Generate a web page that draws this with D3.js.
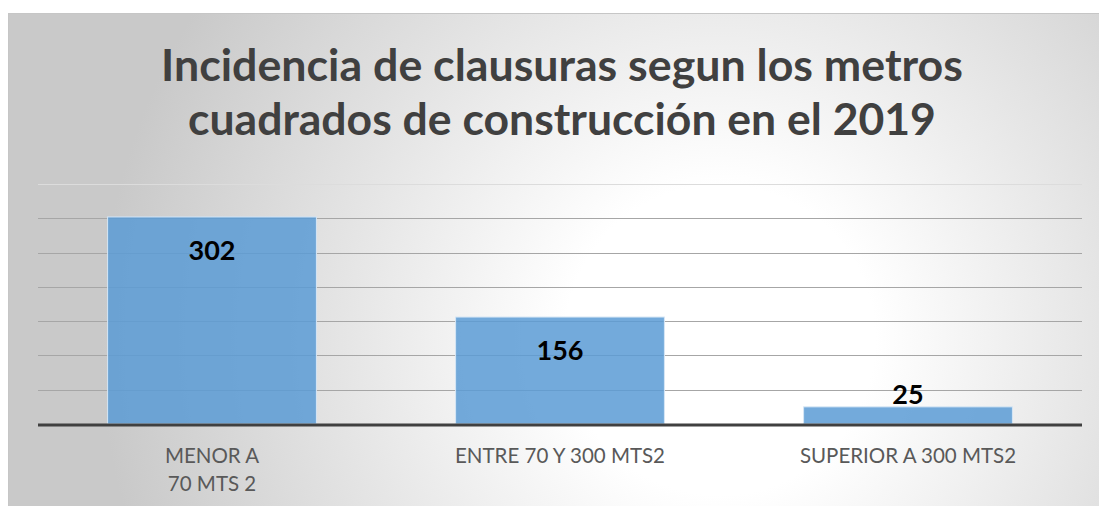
<!DOCTYPE html>
<html>
<head>
<meta charset="utf-8">
<script src="https://cdn.jsdelivr.net/npm/d3@7"></script>
<style>
  body { margin: 0; background: #fff; }
  svg { display: block; }
</style>
</head>
<body>
<div id="chart"></div>
<script>
// Chart data
const categories = ['MENOR A|70 MTS 2', 'ENTRE 70 Y 300 MTS2', 'SUPERIOR A 300 MTS2'];
const values = [302, 156, 25];
const gridTicks = [50, 100, 150, 200, 250, 300, 350];
const titleLines = ['Incidencia de clausuras segun los metros', 'cuadrados de construcción en el 2019'];

const W = 1099, H = 506;
const frame = { x: 8, y: 13 };
const margin = { top: 184, right: 17, bottom: 82, left: 38 };
const width = W - margin.left - margin.right;
const height = H - margin.top - margin.bottom;

const svg = d3.select('#chart').append('svg')
  .attr('width', W)
  .attr('height', H);

// background gradient, bright spot right of centre
const defs = svg.append('defs');
const grad = defs.append('radialGradient')
  .attr('id', 'bg')
  .attr('gradientUnits', 'userSpaceOnUse')
  .attr('cx', 720).attr('cy', 340).attr('r', 620);
grad.append('stop').attr('offset', '0%').attr('stop-color', '#ffffff');
grad.append('stop').attr('offset', '25%').attr('stop-color', '#ffffff');
grad.append('stop').attr('offset', '100%').attr('stop-color', '#c9c9c9');

svg.append('rect')
  .attr('x', frame.x + 0.5).attr('y', frame.y + 0.5)
  .attr('width', W - frame.x + 5).attr('height', H - frame.y + 5)
  .attr('fill', 'url(#bg)')
  .attr('stroke', '#c6c6c6');

// title
const title = svg.append('g').attr('class', 'title');
titleLines.forEach((t, i) => {
  title.append('text')
    .attr('x', 562)
    .attr('y', 81 + i * 54)
    .attr('text-anchor', 'middle')
    .style('font-family', 'Lato, "Open Sans", sans-serif')
    .style('font-weight', 'bold')
    .style('font-size', '42px')
    .style('fill', '#404040')
    .text(t);
});
// squeeze title to the width of the original lines
const titleWidths = [802, 748];
title.selectAll('text').each(function (d, i) {
  const w = this.getComputedTextLength();
  const fs = 42 * titleWidths[i] / w;
  d3.select(this).style('font-size', `${fs}px`);
});

const g = svg.append('g')
  .attr('transform', `translate(${margin.left},${margin.top})`);

const x = d3.scaleBand()
  .domain(categories)
  .range([0, width])
  .paddingInner(0.4)
  .paddingOuter(0.2);

const y = d3.scaleLinear()
  .domain([0, 350])
  .range([height, 0]);

// gridlines
g.append('g')
  .attr('class', 'grid')
  .selectAll('line')
  .data(gridTicks)
  .enter()
  .append('line')
  .attr('x1', 0)
  .attr('x2', width)
  .attr('y1', d => Math.round(y(d)) + 0.5)
  .attr('y2', d => Math.round(y(d)) + 0.5)
  .attr('stroke', d => d === 350 ? '#dcdcdc' : '#a6a6a6')
  .attr('stroke-width', 1);

// bars
g.selectAll('.bar')
  .data(values)
  .enter()
  .append('rect')
  .attr('class', 'bar')
  .attr('x', (d, i) => x(categories[i]))
  .attr('y', d => y(d))
  .attr('width', x.bandwidth())
  .attr('height', d => height - y(d))
  .attr('fill', '#5b9bd5')
  .attr('fill-opacity', 0.85)
  .attr('stroke', '#d6e6f5')
  .attr('stroke-width', 1);

// value labels
g.selectAll('.value')
  .data(values)
  .enter()
  .append('text')
  .attr('class', 'value')
  .attr('x', (d, i) => x(categories[i]) + x.bandwidth() / 2)
  .attr('y', d => (height - y(d) > 60 ? y(d) + 43 : y(d) - 3))
  .attr('text-anchor', 'middle')
  .style('font-family', 'Lato, "Open Sans", sans-serif')
  .style('font-weight', 'bold')
  .style('font-size', '27px')
  .style('fill', '#000')
  .text(d => d);

// baseline
g.append('line')
  .attr('x1', 0).attr('x2', width)
  .attr('y1', height + 1).attr('y2', height + 1)
  .attr('stroke', '#404040')
  .attr('stroke-width', 3);

// category labels
const xAxis = d3.axisBottom(x).tickSize(0).tickFormat('');
const axisG = g.append('g')
  .attr('transform', `translate(0,${height})`)
  .call(xAxis);
axisG.select('.domain').remove();

axisG.selectAll('.tick')
  .append('text')
  .attr('text-anchor', 'middle')
  .style('font-family', 'Lato, "Open Sans", sans-serif')
  .style('font-size', '20.5px')
  .style('fill', '#595959')
  .each(function (d) {
    const lines = d.split('|');
    lines.forEach((l, i) => {
      d3.select(this).append('tspan')
        .attr('x', 0)
        .attr('y', 39 + i * 28)
        .text(l);
    });
  });
</script>
</body>
</html>
